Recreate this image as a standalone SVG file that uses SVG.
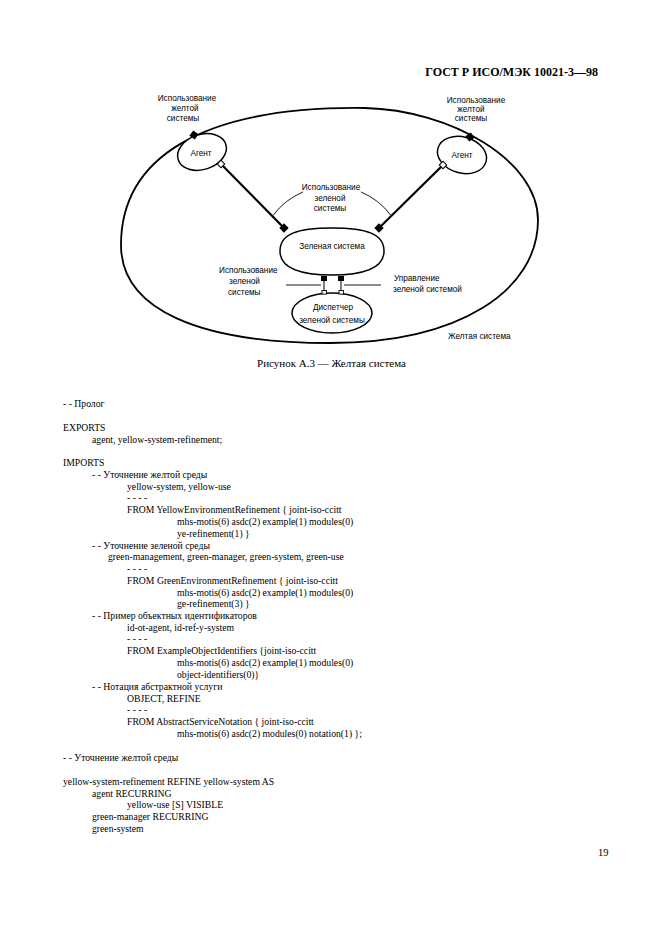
<svg xmlns="http://www.w3.org/2000/svg" xmlns:xlink="http://www.w3.org/1999/xlink" width="661" height="936" viewBox="0 0 661 936">
<style>
.lbl{font-family:"Liberation Sans",Arial,sans-serif;font-size:8.2px;fill:#000;text-anchor:middle}
.lbs{font-family:"Liberation Sans",Arial,sans-serif;font-size:8.2px;fill:#000}
.body{font-family:"Liberation Serif","Times New Roman",serif;font-size:9.7px;fill:#000}
.cap{font-family:"Liberation Serif","Times New Roman",serif;font-size:11px;fill:#000;text-anchor:middle}
.hdr{font-family:"Liberation Serif","Times New Roman",serif;font-size:12px;font-weight:bold;fill:#000;text-anchor:end}
.node{fill:#fff;stroke:#000;stroke-width:1.5}
.thick{stroke:#000;stroke-width:2.2;fill:none}
.thin{stroke:#000;stroke-width:0.9;fill:none}
</style>
<defs>
<rect id="fd" x="-3.3" y="-3.3" width="6.6" height="6.6" fill="#000"/>
<rect id="hd" x="-2.6" y="-2.6" width="5.2" height="5.2" fill="#fff" stroke="#000" stroke-width="1"/>
</defs>
<rect width="661" height="936" fill="#fff"/>
<text class="hdr" x="598" y="76">ГОСТ Р ИСО/МЭК 10021-3—98</text>

<g id="yellow-system">
<path d="M 365 108 C 450 110, 538 160, 538 220 C 538 290, 460 343, 330 343 C 200 343, 121 310, 121 245 C 121 160, 198 106, 365 108 Z" fill="none" stroke="#000" stroke-width="1.8"/>
<text class="lbs" x="448" y="339">Желтая система</text>
</g>

<g id="agent-left">
<ellipse class="node" cx="202" cy="152" rx="25" ry="17.5" transform="rotate(-18 202 152)"/>
<text class="lbl" x="201" y="156">Агент</text>
</g>
<g id="agent-right">
<ellipse class="node" cx="462" cy="155" rx="25" ry="18" transform="rotate(16 462 155)"/>
<text class="lbl" x="462" y="158">Агент</text>
</g>
<g id="green-system">
<path class="node" d="M 280 251 C 280 234, 297 228, 332 228 C 367 228, 384 234, 384 251 C 384 267, 366 275, 332 275 C 298 275, 280 267, 280 251 Z"/>
<text class="lbl" x="332" y="249">Зеленая система</text>
</g>
<g id="green-manager">
<ellipse class="node" cx="332" cy="313" rx="40" ry="20"/>
<text class="lbl" x="333" y="310">Диспетчер</text>
<text class="lbl" x="332" y="323">зеленой системы</text>
</g>

<g id="connectors">
<line class="thick" x1="221" y1="164" x2="284" y2="228"/>
<line class="thick" x1="443" y1="165" x2="379" y2="228"/>
<path class="thin" d="M 272.9 215.5 A 74 74 0 0 1 303.1 191.9"/>
<path class="thin" d="M 360.9 191.9 A 74 74 0 0 1 391.1 215.5"/>
<line class="thin" x1="286" y1="285" x2="321" y2="285"/>
<line class="thin" x1="344" y1="285" x2="381" y2="285"/>
<line x1="324" y1="280" x2="324" y2="291" stroke="#000" stroke-width="1"/>
<line x1="341" y1="280" x2="341" y2="291" stroke="#000" stroke-width="1"/>
<use xlink:href="#fd" transform="translate(194 135) rotate(35)"/>
<use xlink:href="#fd" transform="translate(470 137) rotate(-35)"/>
<use xlink:href="#hd" transform="translate(221 164) rotate(45)"/>
<use xlink:href="#hd" transform="translate(443 165) rotate(45)"/>
<use xlink:href="#fd" transform="translate(284 228) rotate(45)"/>
<use xlink:href="#fd" transform="translate(379 228) rotate(45)"/>
<rect x="321" y="276" width="6" height="5" fill="#000"/>
<rect x="338" y="276" width="6" height="5" fill="#000"/>
<rect x="322" y="290.5" width="4.5" height="3.6" fill="#fff" stroke="#000" stroke-width="0.9"/>
<rect x="339" y="290.5" width="4.5" height="3.6" fill="#fff" stroke="#000" stroke-width="0.9"/>
</g>

<g id="labels">
<text class="lbl" x="187" y="101">Использование</text>
<text class="lbl" x="185" y="111">желтой</text>
<text class="lbl" x="183" y="121">системы</text>
<text class="lbl" x="476" y="103">Использование</text>
<text class="lbl" x="471" y="112">желтой</text>
<text class="lbl" x="471" y="121">системы</text>
<text class="lbl" x="331" y="190">Использование</text>
<text class="lbl" x="330" y="201">зеленой</text>
<text class="lbl" x="330" y="211">системы</text>
<text class="lbs" x="219" y="273">Использование</text>
<text class="lbs" x="229" y="284">зеленой</text>
<text class="lbs" x="228" y="295">системы</text>
<text class="lbs" x="394" y="281">Управление</text>
<text class="lbs" x="393" y="292">зеленой системой</text>
</g>

<text class="cap" x="331.5" y="367">Рисунок А.3 — Желтая система</text>

<g id="listing">
<text class="body" x="63" y="406.5">- - Пролог</text>
<text class="body" x="63" y="430.5">EXPORTS</text>
<text class="body" x="92" y="442.5">agent, yellow-system-refinement;</text>
<text class="body" x="63" y="465.5">IMPORTS</text>
<text class="body" x="92" y="477.5">- - Уточнение желтой среды</text>
<text class="body" x="127" y="489.5">yellow-system, yellow-use</text>
<text class="body" x="127" y="500.5">- - - -</text>
<text class="body" x="127" y="512.5">FROM YellowEnvironmentRefinement { joint-iso-ccitt</text>
<text class="body" x="177" y="524.5">mhs-motis(6) asdc(2) example(1) modules(0)</text>
<text class="body" x="177" y="536.5">ye-refinement(1) }</text>
<text class="body" x="92" y="548.5">- - Уточнение зеленой среды</text>
<text class="body" x="108" y="560">green-management, green-manager, green-system, green-use</text>
<text class="body" x="127" y="571.5">- - - -</text>
<text class="body" x="127" y="583.5">FROM GreenEnvironmentRefinement { joint-iso-ccitt</text>
<text class="body" x="177" y="595.5">mhs-motis(6) asdc(2) example(1) modules(0)</text>
<text class="body" x="177" y="607">ge-refinement(3) }</text>
<text class="body" x="92" y="618.5">- - Пример объектных идентификаторов</text>
<text class="body" x="127" y="630.5">id-ot-agent, id-ref-y-system</text>
<text class="body" x="127" y="642">- - - -</text>
<text class="body" x="127" y="654">FROM ExampleObjectIdentifiers {joint-iso-ccitt</text>
<text class="body" x="177" y="666">mhs-motis(6) asdc(2) example(1) modules(0)</text>
<text class="body" x="177" y="678">object-identifiers(0)}</text>
<text class="body" x="92" y="689.5">- - Нотация абстрактной услуги</text>
<text class="body" x="127" y="701.5">OBJECT, REFINE</text>
<text class="body" x="127" y="713">- - - -</text>
<text class="body" x="127" y="725">FROM AbstractServiceNotation { joint-iso-ccitt</text>
<text class="body" x="177" y="737">mhs-motis(6) asdc(2) modules(0) notation(1) };</text>
<text class="body" x="63" y="760.5">- - Уточнение желтой среды</text>
<text class="body" x="63" y="784.5">yellow-system-refinement REFINE yellow-system AS</text>
<text class="body" x="92" y="796.5">agent RECURRING</text>
<text class="body" x="127" y="808">yellow-use [S] VISIBLE</text>
<text class="body" x="92" y="820">green-manager RECURRING</text>
<text class="body" x="92" y="832">green-system</text>
</g>
<text class="body" x="598" y="856" style="font-size:10.5px">19</text>
</svg>
